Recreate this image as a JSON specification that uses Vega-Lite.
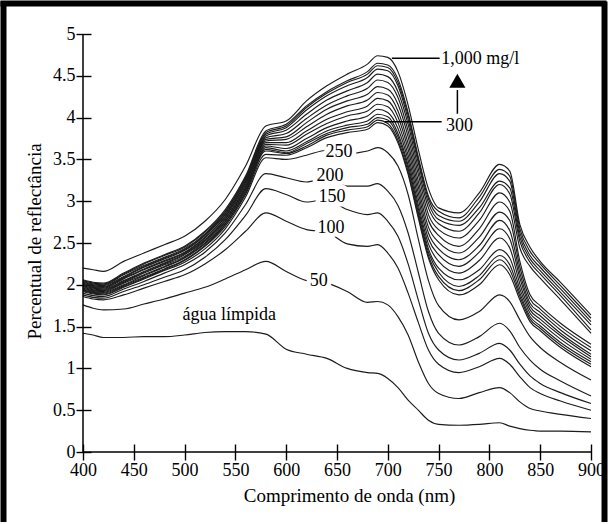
{
  "$schema": "https://vega.github.io/schema/vega-lite/v6.json",
  "width": 508,
  "height": 418,
  "autosize": {"type": "none"},
  "padding": {"left": 83, "top": 34, "right": 17, "bottom": 72},
  "background": "white",
  "config": {
    "view": {"stroke": null},
    "font": "Liberation Serif",
    "axis": {"grid": false, "domain": false, "labelFlush": false, "labelFont": "Liberation Serif", "titleFont": "Liberation Serif", "labelColor": "black", "titleColor": "black", "tickColor": "black", "tickWidth": 1.4, "labelFontSize": 18, "titleFontSize": 19, "titleFontWeight": "normal"}
  },
  "datasets": {
    "spectra": [
      {"w":400,"c0":1.42,"c50":1.76,"c100":1.86,"c150":1.88,"c200":1.90,"c250":1.92,"c300":1.93,"c350":1.94,"c400":1.95,"c450":1.96,"c500":1.97,"c550":1.98,"c600":1.99,"c650":2.00,"c700":2.01,"c750":2.02,"c800":2.03,"c850":2.04,"c900":2.05,"c950":2.06,"c1000":2.20},
      {"w":410,"c0":1.40,"c50":1.72,"c100":1.83,"c150":1.85,"c200":1.87,"c250":1.89,"c300":1.90,"c350":1.91,"c400":1.92,"c450":1.93,"c500":1.94,"c550":1.95,"c600":1.96,"c650":1.97,"c700":1.98,"c750":1.99,"c800":2.00,"c850":2.01,"c900":2.02,"c950":2.03,"c1000":2.18},
      {"w":420,"c0":1.37,"c50":1.70,"c100":1.82,"c150":1.84,"c200":1.86,"c250":1.88,"c300":1.89,"c350":1.90,"c400":1.91,"c450":1.92,"c500":1.93,"c550":1.94,"c600":1.95,"c650":1.96,"c700":1.97,"c750":1.98,"c800":1.99,"c850":2.00,"c900":2.01,"c950":2.02,"c1000":2.16},
      {"w":440,"c0":1.37,"c50":1.71,"c100":1.88,"c150":1.92,"c200":1.95,"c250":1.97,"c300":1.98,"c350":1.99,"c400":2.00,"c450":2.02,"c500":2.03,"c550":2.04,"c600":2.05,"c650":2.07,"c700":2.08,"c750":2.09,"c800":2.10,"c850":2.12,"c900":2.13,"c950":2.14,"c1000":2.28},
      {"w":460,"c0":1.38,"c50":1.77,"c100":1.96,"c150":2.00,"c200":2.04,"c250":2.07,"c300":2.08,"c350":2.09,"c400":2.11,"c450":2.12,"c500":2.14,"c550":2.15,"c600":2.16,"c650":2.18,"c700":2.19,"c750":2.21,"c800":2.22,"c850":2.23,"c900":2.25,"c950":2.26,"c1000":2.38},
      {"w":480,"c0":1.38,"c50":1.83,"c100":2.04,"c150":2.09,"c200":2.14,"c250":2.17,"c300":2.18,"c350":2.19,"c400":2.21,"c450":2.22,"c500":2.24,"c550":2.25,"c600":2.26,"c650":2.28,"c700":2.29,"c750":2.31,"c800":2.32,"c850":2.33,"c900":2.35,"c950":2.36,"c1000":2.48},
      {"w":500,"c0":1.40,"c50":1.90,"c100":2.12,"c150":2.18,"c200":2.24,"c250":2.27,"c300":2.29,"c350":2.30,"c400":2.32,"c450":2.33,"c500":2.34,"c550":2.36,"c600":2.37,"c650":2.38,"c700":2.39,"c750":2.41,"c800":2.42,"c850":2.43,"c900":2.45,"c950":2.46,"c1000":2.58},
      {"w":520,"c0":1.43,"c50":1.97,"c100":2.25,"c150":2.33,"c200":2.39,"c250":2.43,"c300":2.46,"c350":2.47,"c400":2.49,"c450":2.50,"c500":2.52,"c550":2.53,"c600":2.54,"c650":2.56,"c700":2.57,"c750":2.59,"c800":2.60,"c850":2.61,"c900":2.63,"c950":2.64,"c1000":2.76},
      {"w":540,"c0":1.44,"c50":2.07,"c100":2.42,"c150":2.54,"c200":2.62,"c250":2.67,"c300":2.70,"c350":2.72,"c400":2.73,"c450":2.75,"c500":2.76,"c550":2.78,"c600":2.79,"c650":2.81,"c700":2.82,"c750":2.84,"c800":2.85,"c850":2.87,"c900":2.88,"c950":2.90,"c1000":3.02},
      {"w":560,"c0":1.44,"c50":2.18,"c100":2.64,"c150":2.83,"c200":2.96,"c250":3.05,"c300":3.08,"c350":3.10,"c400":3.11,"c450":3.13,"c500":3.15,"c550":3.16,"c600":3.18,"c650":3.20,"c700":3.22,"c750":3.23,"c800":3.25,"c850":3.27,"c900":3.28,"c950":3.30,"c1000":3.42},
      {"w":580,"c0":1.41,"c50":2.28,"c100":2.86,"c150":3.15,"c200":3.33,"c250":3.52,"c300":3.56,"c350":3.60,"c400":3.62,"c450":3.64,"c500":3.66,"c550":3.68,"c600":3.70,"c650":3.72,"c700":3.74,"c750":3.76,"c800":3.78,"c850":3.80,"c900":3.82,"c950":3.84,"c1000":3.90},
      {"w":600,"c0":1.23,"c50":2.16,"c100":2.76,"c150":3.08,"c200":3.28,"c250":3.50,"c300":3.55,"c350":3.57,"c400":3.58,"c450":3.60,"c500":3.63,"c550":3.67,"c600":3.70,"c650":3.74,"c700":3.77,"c750":3.81,"c800":3.85,"c850":3.88,"c900":3.90,"c950":3.92,"c1000":3.96},
      {"w":620,"c0":1.17,"c50":2.05,"c100":2.66,"c150":2.99,"c200":3.23,"c250":3.55,"c300":3.64,"c350":3.66,"c400":3.69,"c450":3.71,"c500":3.75,"c550":3.80,"c600":3.84,"c650":3.89,"c700":3.94,"c750":3.99,"c800":4.04,"c850":4.09,"c900":4.12,"c950":4.14,"c1000":4.20},
      {"w":640,"c0":1.12,"c50":2.02,"c100":2.63,"c150":3.02,"c200":3.28,"c250":3.61,"c300":3.76,"c350":3.79,"c400":3.81,"c450":3.84,"c500":3.88,"c550":3.93,"c600":3.98,"c650":4.04,"c700":4.10,"c750":4.15,"c800":4.21,"c850":4.26,"c900":4.29,"c950":4.31,"c1000":4.38},
      {"w":660,"c0":1.00,"c50":1.92,"c100":2.49,"c150":2.90,"c200":3.18,"c250":3.57,"c300":3.82,"c350":3.85,"c400":3.88,"c450":3.91,"c500":3.96,"c550":4.02,"c600":4.07,"c650":4.14,"c700":4.20,"c750":4.26,"c800":4.32,"c850":4.38,"c900":4.42,"c950":4.44,"c1000":4.52},
      {"w":680,"c0":0.95,"c50":1.79,"c100":2.46,"c150":2.84,"c200":3.18,"c250":3.60,"c300":3.86,"c350":3.89,"c400":3.92,"c450":3.96,"c500":4.02,"c550":4.08,"c600":4.14,"c650":4.21,"c700":4.28,"c750":4.35,"c800":4.42,"c850":4.48,"c900":4.52,"c950":4.55,"c1000":4.64},
      {"w":690,"c0":0.94,"c50":1.80,"c100":2.48,"c150":2.86,"c200":3.21,"c250":3.64,"c300":3.94,"c350":3.97,"c400":4.00,"c450":4.04,"c500":4.10,"c550":4.16,"c600":4.23,"c650":4.30,"c700":4.37,"c750":4.45,"c800":4.52,"c850":4.58,"c900":4.62,"c950":4.65,"c1000":4.74},
      {"w":700,"c0":0.88,"c50":1.76,"c100":2.38,"c150":2.76,"c200":3.12,"c250":3.58,"c300":3.90,"c350":3.93,"c400":3.97,"c450":4.01,"c500":4.06,"c550":4.13,"c600":4.20,"c650":4.27,"c700":4.34,"c750":4.42,"c800":4.49,"c850":4.56,"c900":4.60,"c950":4.63,"c1000":4.72},
      {"w":710,"c0":0.77,"c50":1.62,"c100":2.20,"c150":2.58,"c200":2.95,"c250":3.42,"c300":3.70,"c350":3.73,"c400":3.77,"c450":3.81,"c500":3.87,"c550":3.94,"c600":4.01,"c650":4.08,"c700":4.16,"c750":4.24,"c800":4.31,"c850":4.38,"c900":4.42,"c950":4.46,"c1000":4.55},
      {"w":720,"c0":0.62,"c50":1.40,"c100":1.90,"c150":2.25,"c200":2.62,"c250":3.08,"c300":3.32,"c350":3.35,"c400":3.39,"c450":3.43,"c500":3.49,"c550":3.55,"c600":3.62,"c650":3.69,"c700":3.77,"c750":3.84,"c800":3.92,"c850":3.98,"c900":4.03,"c950":4.06,"c1000":4.15},
      {"w":730,"c0":0.50,"c50":1.08,"c100":1.55,"c150":1.82,"c200":2.15,"c250":2.55,"c300":2.80,"c350":2.83,"c400":2.87,"c450":2.91,"c500":2.96,"c550":3.03,"c600":3.10,"c650":3.17,"c700":3.24,"c750":3.32,"c800":3.39,"c850":3.46,"c900":3.50,"c950":3.53,"c1000":3.62},
      {"w":740,"c0":0.38,"c50":0.82,"c100":1.22,"c150":1.42,"c200":1.68,"c250":2.05,"c300":2.32,"c350":2.35,"c400":2.39,"c450":2.43,"c500":2.49,"c550":2.55,"c600":2.62,"c650":2.69,"c700":2.77,"c750":2.84,"c800":2.92,"c850":2.98,"c900":3.03,"c950":3.06,"c1000":3.15},
      {"w":750,"c0":0.33,"c50":0.70,"c100":1.05,"c150":1.22,"c200":1.42,"c250":1.75,"c300":2.06,"c350":2.10,"c400":2.15,"c450":2.20,"c500":2.28,"c550":2.36,"c600":2.43,"c650":2.51,"c700":2.59,"c750":2.66,"c800":2.73,"c850":2.78,"c900":2.83,"c950":2.88,"c1000":2.92},
      {"w":770,"c0":0.32,"c50":0.64,"c100":0.95,"c150":1.10,"c200":1.28,"c250":1.58,"c300":1.88,"c350":1.93,"c400":1.98,"c450":2.06,"c500":2.14,"c550":2.22,"c600":2.30,"c650":2.38,"c700":2.46,"c750":2.56,"c800":2.64,"c850":2.71,"c900":2.76,"c950":2.80,"c1000":2.86},
      {"w":790,"c0":0.33,"c50":0.71,"c100":1.02,"c150":1.18,"c200":1.38,"c250":1.68,"c300":2.00,"c350":2.06,"c400":2.11,"c450":2.18,"c500":2.29,"c550":2.39,"c600":2.47,"c650":2.57,"c700":2.67,"c750":2.77,"c800":2.86,"c850":2.92,"c900":2.99,"c950":3.05,"c1000":3.10},
      {"w":810,"c0":0.35,"c50":0.77,"c100":1.12,"c150":1.30,"c200":1.54,"c250":1.88,"c300":2.24,"c350":2.30,"c400":2.35,"c450":2.42,"c500":2.56,"c550":2.67,"c600":2.77,"c650":2.87,"c700":2.99,"c750":3.10,"c800":3.20,"c850":3.24,"c900":3.33,"c950":3.38,"c1000":3.44},
      {"w":820,"c0":0.31,"c50":0.71,"c100":1.05,"c150":1.22,"c200":1.45,"c250":1.80,"c300":2.12,"c350":2.18,"c400":2.24,"c450":2.32,"c500":2.44,"c550":2.55,"c600":2.65,"c650":2.77,"c700":2.88,"c750":2.99,"c800":3.09,"c850":3.16,"c900":3.24,"c950":3.30,"c1000":3.36},
      {"w":830,"c0":0.28,"c50":0.60,"c100":0.90,"c150":1.05,"c200":1.25,"c250":1.58,"c300":1.82,"c350":1.86,"c400":1.90,"c450":1.95,"c500":2.01,"c550":2.08,"c600":2.14,"c650":2.21,"c700":2.28,"c750":2.44,"c800":2.52,"c850":2.57,"c900":2.62,"c950":2.67,"c1000":2.72},
      {"w":840,"c0":0.26,"c50":0.52,"c100":0.77,"c150":0.91,"c200":1.10,"c250":1.38,"c300":1.56,"c350":1.59,"c400":1.62,"c450":1.66,"c500":1.70,"c550":1.74,"c600":1.78,"c650":1.83,"c700":1.88,"c750":2.22,"c800":2.27,"c850":2.31,"c900":2.35,"c950":2.40,"c1000":2.45},
      {"w":850,"c0":0.25,"c50":0.49,"c100":0.70,"c150":0.82,"c200":0.99,"c250":1.25,"c300":1.45,"c350":1.48,"c400":1.51,"c450":1.55,"c500":1.59,"c550":1.63,"c600":1.67,"c650":1.71,"c700":1.75,"c750":2.08,"c800":2.13,"c850":2.17,"c900":2.21,"c950":2.25,"c1000":2.28},
      {"w":870,"c0":0.25,"c50":0.45,"c100":0.61,"c150":0.71,"c200":0.85,"c250":1.07,"c300":1.25,"c350":1.28,"c400":1.31,"c450":1.35,"c500":1.39,"c550":1.42,"c600":1.46,"c650":1.50,"c700":1.54,"c750":1.82,"c800":1.87,"c850":1.91,"c900":1.95,"c950":1.99,"c1000":2.03},
      {"w":900,"c0":0.24,"c50":0.40,"c100":0.50,"c150":0.58,"c200":0.67,"c250":0.86,"c300":1.02,"c350":1.05,"c400":1.08,"c450":1.11,"c500":1.14,"c550":1.17,"c600":1.21,"c650":1.25,"c700":1.29,"c750":1.42,"c800":1.46,"c850":1.52,"c900":1.56,"c950":1.60,"c1000":1.64}
    ],
    "labels": [
      {"t": "1,000 mg/l", "x": 791, "y": 4.70},
      {"t": "300", "x": 770.6, "y": 3.90},
      {"t": "250", "x": 652, "y": 3.59},
      {"t": "200", "x": 643, "y": 3.30},
      {"t": "150", "x": 645, "y": 3.05},
      {"t": "100", "x": 644, "y": 2.68},
      {"t": "50", "x": 632, "y": 2.045},
      {"t": "água límpida", "x": 544, "y": 1.64}
    ],
    "leaders": [
      {"x": 704, "x2": 751, "y": 4.71, "y2": 4.71},
      {"x": 697, "x2": 753, "y": 3.95, "y2": 3.95},
      {"x": 768.5, "x2": 768.5, "y": 4.33, "y2": 4.03}
    ],
    "arrow": [{"x": 768.5, "y": 4.44}],
    "frame": [
      {"x": 321.75, "x2": 321.75, "y": 5.39, "y2": -0.837},
      {"x": 913.3, "x2": 913.3, "y": 5.39, "y2": -0.837},
      {"x": 318.7, "x2": 915.3, "y": 5.365, "y2": 5.365}
    ]
  },
  "layer": [
    {
      "data": {"name": "spectra"},
      "transform": [{"fold": ["c0","c50","c100","c150","c200","c250","c300","c350","c400","c450","c500","c550","c600","c650","c700","c750","c800","c850","c900","c950","c1000"], "as": ["curve", "r"]}],
      "mark": {"type": "line", "interpolate": "monotone", "stroke": "#1c1c1c", "strokeWidth": 1.15},
      "encoding": {
        "x": {"field": "w", "type": "quantitative", "scale": {"domain": [400, 900], "nice": false, "zero": false},
          "axis": {"values": [400,450,500,550,600,650,700,750,800,850,900], "format": "d", "offset": -8, "tickSize": 16, "labelPadding": 1, "title": "Comprimento de onda (nm)", "titleX": 266, "titleY": 42, "titleBaseline": "top", "titleAlign": "center"}},
        "y": {"field": "r", "type": "quantitative", "scale": {"domain": [0, 5], "nice": false},
          "axis": {"values": [0,0.5,1,1.5,2,2.5,3,3.5,4,4.5,5], "format": "~g", "offset": -8, "tickSize": 15, "labelPadding": 1, "title": "Percentual de reflectância", "titleX": -51, "titleY": 207, "titleAngle": 270, "titleAlign": "center", "titleBaseline": "alphabetic"}},
        "detail": {"field": "curve"}
      }
    },
    {
      "data": {"values": [{}]},
      "mark": {"type": "rule", "stroke": "black", "strokeWidth": 1.5},
      "encoding": {
        "x": {"datum": 400, "type": "quantitative"},
        "x2": {"datum": 900},
        "y": {"datum": 0, "type": "quantitative"}
      }
    },
    {
      "data": {"values": [{}]},
      "mark": {"type": "rule", "stroke": "black", "strokeWidth": 1.5},
      "encoding": {
        "x": {"datum": 400, "type": "quantitative"},
        "y": {"datum": 0, "type": "quantitative"},
        "y2": {"datum": 5}
      }
    },
    {
      "data": {"name": "frame"},
      "mark": {"type": "rule", "stroke": "black", "strokeWidth": 6, "strokeCap": "butt", "clip": false},
      "encoding": {
        "x": {"field": "x", "type": "quantitative"},
        "x2": {"field": "x2"},
        "y": {"field": "y", "type": "quantitative"},
        "y2": {"field": "y2"}
      }
    },
    {
      "data": {"name": "leaders"},
      "mark": {"type": "rule", "stroke": "black", "strokeWidth": 1.5},
      "encoding": {
        "x": {"field": "x", "type": "quantitative"},
        "x2": {"field": "x2"},
        "y": {"field": "y", "type": "quantitative"},
        "y2": {"field": "y2"}
      }
    },
    {
      "data": {"name": "arrow"},
      "mark": {"type": "point", "shape": "triangle-up", "filled": true, "color": "black", "size": 260, "opacity": 1},
      "encoding": {
        "x": {"field": "x", "type": "quantitative"},
        "y": {"field": "y", "type": "quantitative"}
      }
    },
    {
      "data": {"name": "labels"},
      "mark": {"type": "text", "font": "Liberation Serif", "fontSize": 18, "align": "center", "baseline": "middle", "fill": "white", "stroke": "white", "strokeWidth": 9, "strokeJoin": "round"},
      "encoding": {
        "x": {"field": "x", "type": "quantitative"},
        "y": {"field": "y", "type": "quantitative"},
        "text": {"field": "t"}
      }
    },
    {
      "data": {"name": "labels"},
      "mark": {"type": "text", "font": "Liberation Serif", "fontSize": 18, "align": "center", "baseline": "middle", "fill": "black"},
      "encoding": {
        "x": {"field": "x", "type": "quantitative"},
        "y": {"field": "y", "type": "quantitative"},
        "text": {"field": "t"}
      }
    }
  ]
}
